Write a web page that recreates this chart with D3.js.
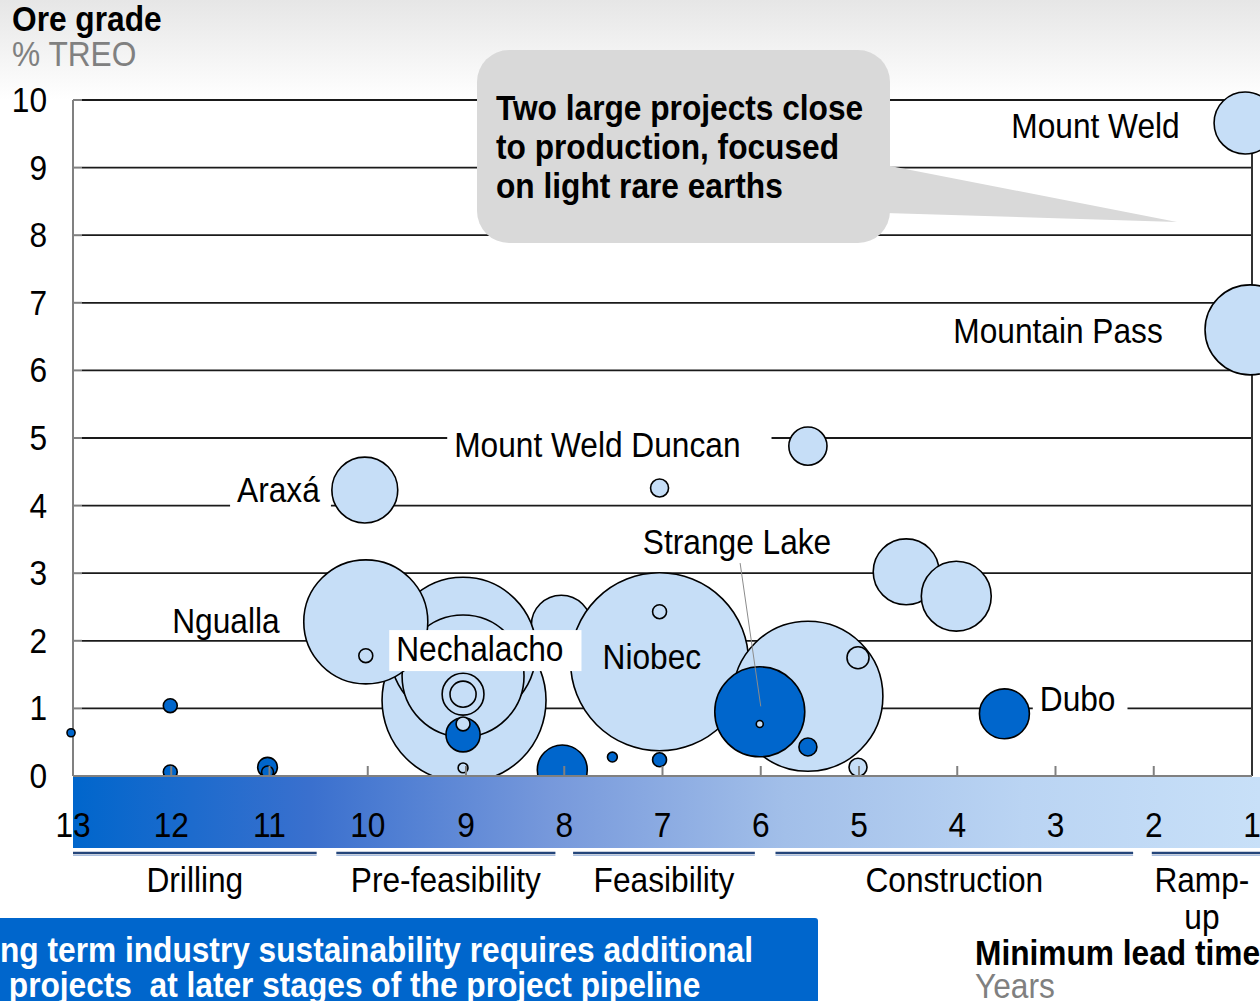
<!DOCTYPE html>
<html><head><meta charset="utf-8">
<script src="https://cdn.jsdelivr.net/npm/d3@7"></script>
<style>
body{margin:0;background:#fff;}
svg{display:block;font-family:"Liberation Sans",Arial,sans-serif;}
text{white-space:pre;}
</style>
</head><body>
<svg id="c" width="1260" height="1001"></svg>
<script>
// ---------- DATA ----------
const yTicks = [0,1,2,3,4,5,6,7,8,9,10];
const xTicks = [13,12,11,10,9,8,7,6,5,4,3,2,1];

const phaseNames = ["Drilling","Pre-feasibility","Feasibility","Construction","Ramp-\nup"];
const phaseStart = [13, 10.32, 7.91, 5.85, 2.02];
const phaseEnd   = [10.52, 8.09, 6.06, 2.21, 1.0];

// bubbles (drawn in this order)
const bubbleYear  = [1.07, 1.02, 5.52, 10.03, 7.03, 4.52, 4.01, 3.52, 8.03, 9.02, 9.03, 9.03, 10.02, 10.02, 9.03, 9.03, 9.03, 9.03, 9.03, 8.02, 7.03, 7.03, 7.03, 7.51, 5.52, 5.01, 5.01, 5.52, 6.01, 6.01, 12.01, 12.01, 11.02, 11.02, 13.02];
const bubbleGrade = [9.66, 6.60, 4.88, 4.23, 4.26, 3.02, 2.66, 0.92, 2.23, 1.12, 1.86, 1.48, 2.28, 1.78, 1.21, 1.21, 0.61, 0.77, 0.12, 0.09, 1.69, 2.43, 0.24, 0.28, 1.18, 1.75, 0.13, 0.43, 0.95, 0.77, 1.04, 0.06, 0.13, 0.06, 0.64];
const bubbleSize  = [11.9, 25, 4.5, 13.4, 1.0, 13.4, 15.1, 7.7, 11.1, 83, 65.8, 45.9, 47.5, 0.6, 5.4, 2.1, 3.6, 0.6, 0.3, 7.7, 97.8, 0.6, 0.6, 0.3, 69.4, 1.5, 1.0, 1.0, 25, 0.15, 0.6, 0.6, 1.2, 0.44, 0.2];
const bubbleDark  = [0,0,0,0,0,0,0,1,0,0,0,0,0,0,0,0,1,0,0,1,0,0,1,1,0,0,0,1,1,0,1,1,1,1,1];

// project labels: text, anchor year, anchor grade (text start / baseline), white box
const labelText  = ["Mount Weld","Mountain Pass","Mount Weld Duncan","Araxá","Ngualla","Nechalacho","Niobec","Strange Lake","Dubo"];
const labelYear  = [3.45, 4.04, 9.12, 11.33, 11.99, 9.71, 7.61, 7.20, 3.16];
const labelGrade = [9.44, 6.41, 4.72, 4.05, 2.12, 1.70, 1.58, 3.28, 0.96];
const labelBox   = [0, 0, 1, 1, 0, 1, 0, 0, 1];
const labelBoxPadR = [0, 0, 31, 11, 0, 18, 0, 0, 12];

// leader line for Strange Lake (year, grade)
const leaderFrom = [6.21, 3.15];
const leaderTo   = [6.00, 1.03];

const calloutLines = ["Two large projects close","to production, focused","on light rare earths"];
const footerLines = ["ng term industry sustainability requires additional"," projects  at later stages of the project pipeline"];

// ---------- CHART ----------
const svg = d3.select("#c");
const SX = 0.88, FS = 36;
const LIGHT = "#C6DEF7", DARK = "#0066CC";

const x = d3.scaleLinear().domain([13,1]).range([73,1252]);
const y = d3.scaleLinear().domain([0,10]).range([776,100]);
const r = d3.scaleSqrt().domain([0,100]).range([0,90]);

const defs = svg.append("defs");
const bg = defs.append("linearGradient").attr("id","bg").attr("x1",0).attr("y1",0).attr("x2",0).attr("y2",1);
bg.append("stop").attr("offset","0").attr("stop-color","#e6e6e6");
bg.append("stop").attr("offset","1").attr("stop-color","#ffffff");
const band = defs.append("linearGradient").attr("id","band").attr("x1",0).attr("y1",0).attr("x2",1).attr("y2",0);
[["0","#0066CC"],["0.2","#3A70CE"],["0.4","#7698DB"],["0.6","#A2BFE9"],["0.8","#BAD4F3"],["1","#C8E0F8"]]
  .forEach(([o,c])=>band.append("stop").attr("offset",o).attr("stop-color",c));

svg.append("rect").attr("x",0).attr("y",0).attr("width",1260).attr("height",100).attr("fill","url(#bg)");

function txt(g, str, px, py, opts={}) {
  const t = g.append("text")
    .attr("transform",`translate(${px},${py}) scale(${SX},1)`)
    .attr("font-size",(opts.fs||FS)+"px")
    .attr("fill",opts.fill||"#000")
    .attr("font-weight",opts.bold?"bold":"normal")
    .attr("text-anchor",opts.anchor||"start")
    .text(str);
  return t;
}

// gridlines
const grid = svg.append("g");
grid.selectAll("line").data(yTicks.filter(d=>d>0)).join("line")
  .attr("x1",82).attr("x2",x(1)).attr("y1",d=>y(d)).attr("y2",d=>y(d))
  .attr("stroke","#1a1a1a").attr("stroke-width",1.8);

// left axis (gray) + ticks
svg.append("line").attr("x1",x(13)).attr("x2",x(13)).attr("y1",y(10)).attr("y2",y(0)).attr("stroke","#808080").attr("stroke-width",2);
svg.append("g").selectAll("line").data(yTicks).join("line")
  .attr("x1",x(13)).attr("x2",82).attr("y1",d=>y(d)).attr("y2",d=>y(d))
  .attr("stroke","#808080").attr("stroke-width",2);
// right border
svg.append("line").attr("x1",x(1)).attr("x2",x(1)).attr("y1",y(10)).attr("y2",y(0)).attr("stroke","#333").attr("stroke-width",2);

// y labels
const yl = svg.append("g");
yTicks.forEach(d=>txt(yl, String(d), 47, y(d)+12, {anchor:"end"}));

// bubbles
const idx = d3.range(bubbleYear.length);
svg.append("g").selectAll("circle").data(idx).join("circle")
  .attr("cx",i=>x(bubbleYear[i])).attr("cy",i=>y(bubbleGrade[i])).attr("r",i=>r(bubbleSize[i]))
  .attr("fill",i=>bubbleDark[i]?DARK:LIGHT)
  .attr("stroke","#000").attr("stroke-width",1.6);

// leader line
svg.append("line").attr("x1",x(leaderFrom[0])).attr("y1",y(leaderFrom[1]))
  .attr("x2",x(leaderTo[0])).attr("y2",y(leaderTo[1]))
  .attr("stroke","#8c8c8c").attr("stroke-width",1);

// labels
const lg = svg.append("g");
labelText.forEach((s,i)=>{
  const px = x(labelYear[i]), py = y(labelGrade[i]);
  const g = lg.append("g").attr("transform",`translate(${px},${py}) scale(${SX},1)`);
  const rect = labelBox[i] ? g.append("rect").attr("fill","#fff") : null;
  const t = g.append("text").attr("font-size",FS+"px").attr("fill","#000").text(s);
  if (rect) {
    const bb = t.node().getBBox();
    rect.attr("x",-7/SX).attr("y",-31).attr("width",bb.width+(7+labelBoxPadR[i])/SX).attr("height",41);
  }
});

// callout
const cg = svg.append("g");
cg.append("path").attr("d","M 885 165 L 1177 222 L 885 213 Z").attr("fill","#D9D9D9");
cg.append("rect").attr("x",477).attr("y",50).attr("width",413).attr("height",193).attr("rx",32).attr("fill","#D9D9D9");
calloutLines.forEach((s,i)=>txt(cg, s, 496, 120+39*i, {bold:true}));

// gradient band
svg.append("rect").attr("x",x(13)).attr("y",777).attr("width",1260-x(13)).attr("height",71).attr("fill","url(#band)");

// bottom axis
svg.append("line").attr("x1",x(13)).attr("x2",x(1)).attr("y1",y(0)).attr("y2",y(0)).attr("stroke","#808080").attr("stroke-width",2);
svg.append("g").selectAll("line").data(xTicks.filter(d=>d<13&&d>1)).join("line")
  .attr("x1",d=>x(d)).attr("x2",d=>x(d)).attr("y1",y(0)).attr("y2",y(0)-10)
  .attr("stroke","#808080").attr("stroke-width",2);
const xl = svg.append("g");
xTicks.forEach(d=>txt(xl, String(d), x(d), 837, {anchor:"middle"}));

// phases
const pg = svg.append("g");
phaseNames.forEach((n,i)=>{
  const a = x(phaseStart[i]), b = x(phaseEnd[i]);
  pg.append("line").attr("x1",a).attr("x2",b+ (i===4?10:0)).attr("y1",853).attr("y2",853).attr("stroke","#24457A").attr("stroke-width",2.5);
  pg.append("line").attr("x1",a).attr("x2",b+ (i===4?10:0)).attr("y1",855.5).attr("y2",855.5).attr("stroke","#A9BEDF").attr("stroke-width",1);
  n.split("\n").forEach((s,k)=>txt(pg, s, (a+b)/2, 892+37*k, {anchor:"middle"}));
});

// titles
txt(svg, "Ore grade", 12, 31, {bold:true});
txt(svg, "% TREO", 12, 66, {fill:"#808080"});
txt(svg, "Minimum lead time", 975, 965, {bold:true});
txt(svg, "Years", 975, 998, {fill:"#808080"});

// footer box
svg.append("rect").attr("x",-10).attr("y",918).attr("width",828).attr("height",100).attr("rx",3).attr("fill","#0066CC");
footerLines.forEach((s,i)=>txt(svg, s, 0, 962+35*i, {bold:true, fill:"#fff"}));
</script>
</body></html>
